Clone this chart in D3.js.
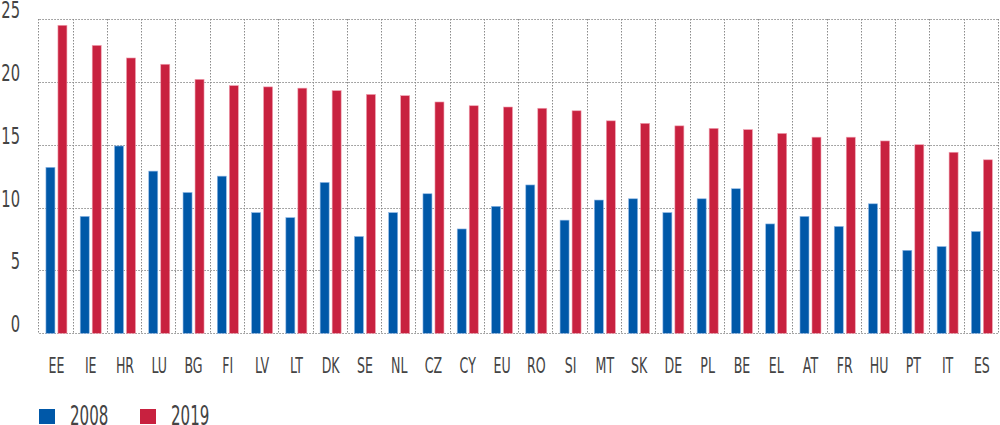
<!DOCTYPE html>
<html>
<head>
<meta charset="utf-8">
<script src="https://cdn.jsdelivr.net/npm/d3@7"></script>
<style>
	body { margin: 0; background: #fff; }
	text { font-family: "DejaVu Sans", sans-serif; fill: #444; }
</style>
</head>
<body>
<div id="chart"></div>
<script>
var countries = ["EE", "IE", "HR", "LU", "BG", "FI", "LV", "LT", "DK", "SE", "NL", "CZ", "CY", "EU",
	"RO", "SI", "MT", "SK", "DE", "PL", "BE", "EL", "AT", "FR", "HU", "PT", "IT", "ES"];
var years = ["2008", "2019"];
var values2008 = [13.2, 9.3, 14.9, 12.9, 11.2, 12.5, 9.6, 9.2, 12.0, 7.7, 9.6, 11.1, 8.3, 10.1,
	11.8, 9.0, 10.6, 10.7, 9.6, 10.7, 11.5, 8.7, 9.3, 8.5, 10.3, 6.6, 6.9, 8.1];
var values2019 = [24.5, 22.9, 21.9, 21.4, 20.2, 19.7, 19.6, 19.5, 19.3, 19.0, 18.9, 18.4, 18.1, 18.0,
	17.9, 17.7, 16.9, 16.7, 16.5, 16.3, 16.2, 15.9, 15.6, 15.6, 15.3, 15.0, 14.4, 13.8];
var yTicks = [0, 5, 10, 15, 20, 25];

var colors = { "2008": "#0058a8", "2019": "#c8213f" };
var strokes = { "2008": "#8fb8e6", "2019": "#f0a0b0" };

var width = 1000, height = 425;
var margin = { left: 39.3, right: 999, top: 19, bottom: 333.3 };

// narrow the glyphs, the original uses a condensed face
function squeeze(x, y, sx) {
	return "translate(" + x + "," + y + ") scale(" + sx + ",1)";
}

var svg = d3.select("#chart").append("svg")
	.attr("width", width)
	.attr("height", height);

var x = d3.scaleBand().domain(countries).range([margin.left, margin.right]).padding(0);
var x1 = d3.scaleBand().domain(years).range([0, x.bandwidth()])
	.paddingInner(0.25).paddingOuter(0.553);
var y = d3.scaleLinear().domain([0, 25]).range([margin.bottom, margin.top]);

// grid
var grid = svg.append("g").attr("class", "grid")
	.attr("stroke", "#8a8a8a")
	.attr("stroke-width", 1)
	.attr("stroke-dasharray", "1.5,1.5");

grid.selectAll("line.h")
	.data(yTicks)
	.enter()
	.append("line")
	.attr("class", "h")
	.attr("x1", margin.left)
	.attr("x2", margin.right)
	.attr("y1", (d) => Math.round(y(d)) + 0.5)
	.attr("y2", (d) => Math.round(y(d)) + 0.5);

var vx = countries.map((c) => x(c)).concat([margin.right]);
grid.selectAll("line.v")
	.data(vx)
	.enter()
	.append("line")
	.attr("class", "v")
	.attr("x1", (d) => Math.round(d) - 0.5)
	.attr("x2", (d) => Math.round(d) - 0.5)
	.attr("y1", margin.top)
	.attr("y2", margin.bottom);

// y labels
svg.append("g")
	.selectAll("text")
	.data(yTicks)
	.enter()
	.append("text")
	.attr("transform", (d) => squeeze(20, y(d) - 1, 0.64))
	.attr("text-anchor", "end")
	.style("font-size", "23px")
	.text((d) => d);

// bars
var rows = countries.map((c, i) => ({ country: c, v: { "2008": values2008[i], "2019": values2019[i] } }));

var groups = svg.append("g")
	.selectAll("g")
	.data(rows)
	.enter()
	.append("g")
	.attr("transform", (d) => "translate(" + x(d.country) + ",0)");

groups.selectAll("rect")
	.data((d) => years.map((yr) => ({ year: yr, value: d.v[yr] })))
	.enter()
	.append("rect")
	.attr("x", (d) => x1(d.year))
	.attr("width", x1.bandwidth())
	.attr("y", (d) => y(d.value))
	.attr("height", (d) => y(0) - y(d.value))
	.style("fill", (d) => colors[d.year])
	.style("stroke", (d) => strokes[d.year])
	.style("stroke-width", 0.6);

// x labels
svg.append("g")
	.selectAll("text")
	.data(countries)
	.enter()
	.append("text")
	.attr("transform", (d) => squeeze(x(d) + x.bandwidth() / 2, 373, 0.6))
	.attr("text-anchor", "middle")
	.style("font-size", "21px")
	.text((d) => d);

// legend
var legend = svg.append("g")
	.selectAll("g")
	.data(years)
	.enter()
	.append("g")
	.attr("transform", (d, i) => "translate(" + (39 + i * 101) + ",0)");

legend.append("rect")
	.attr("x", 0)
	.attr("y", 409)
	.attr("width", 16)
	.attr("height", 15)
	.style("fill", (d) => colors[d]);

legend.append("text")
	.attr("transform", squeeze(31, 425, 0.58))
	.style("font-size", "26px")
	.text((d) => d);
</script>
</body>
</html>
